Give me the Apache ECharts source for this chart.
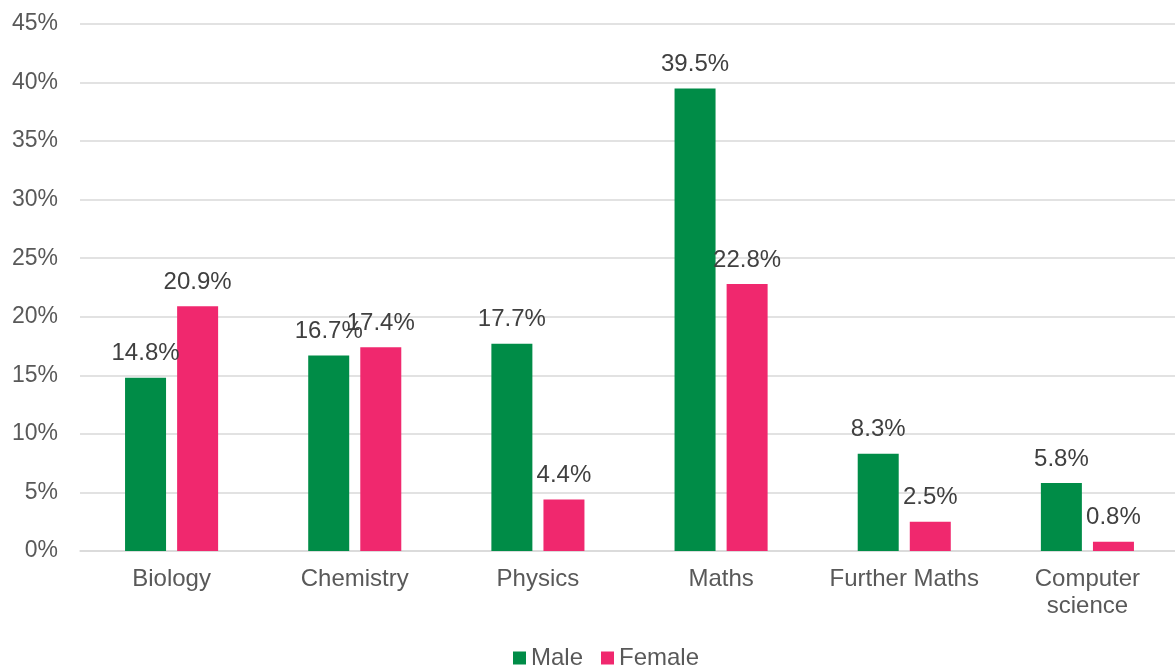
<!DOCTYPE html>
<html>
<head>
<meta charset="utf-8">
<script src="https://cdn.jsdelivr.net/npm/echarts@6/dist/echarts.min.js"></script>
<style>
  html, body { margin: 0; padding: 0; background: #fff; overflow: hidden; }
  /* canvas runs a few pixels past the right edge so the last category is cut like the plot frame */
  #chart { width: 1179px; height: 666px; }
</style>
</head>
<body>
<div id="chart"></div>
<script>
// Share of students taking each subject, by sex (percent)
const subjects = ['Biology', 'Chemistry', 'Physics', 'Maths', 'Further Maths', 'Computer\nscience'];
const maleValues = [14.8, 16.7, 17.7, 39.5, 8.3, 5.8];
const femaleValues = [20.9, 17.4, 4.4, 22.8, 2.5, 0.8];
const seriesNames = ['Male', 'Female'];
const yTicks = { min: 0, max: 45, interval: 5 };

const FONT = '"Liberation Sans", Arial, sans-serif';
const GREEN = '#008c47';
const PINK = '#f0286e';

const labelStyle = {
  show: true,
  position: 'top',
  distance: 12,
  color: '#404040',
  fontFamily: FONT,
  fontSize: 24,
  formatter: p => p.value.toFixed(1) + '%'
};

const chart = echarts.init(document.getElementById('chart'), null, { renderer: 'canvas' });
chart.setOption({
  animation: false,
  backgroundColor: '#ffffff',
  grid: { left: 80, top: 24, width: 1099, height: 527, containLabel: false },
  legend: {
    data: seriesNames,
    left: 508,
    top: 641,
    itemWidth: 13,
    itemHeight: 13,
    itemGap: 18,
    icon: 'rect',
    textStyle: { color: '#595959', fontFamily: FONT, fontSize: 24 }
  },
  xAxis: {
    type: 'category',
    data: subjects,
    axisLine: { show: true, lineStyle: { color: '#d9d9d9', width: 1.5 } },
    axisTick: { show: false },
    axisLabel: {
      color: '#595959',
      fontFamily: FONT,
      fontSize: 24,
      lineHeight: 27,
      margin: 15,
      interval: 0
    }
  },
  yAxis: {
    type: 'value',
    min: yTicks.min,
    max: yTicks.max,
    interval: yTicks.interval,
    axisLine: { show: false },
    axisTick: { show: false },
    splitLine: { lineStyle: { color: '#d9d9d9', width: 1.5 } },
    axisLabel: {
      color: '#595959',
      fontFamily: FONT,
      fontSize: 23,
      margin: 22,
      formatter: v => v + '%'
    }
  },
  series: [
    {
      name: seriesNames[0],
      type: 'bar',
      data: maleValues,
      barWidth: 41,
      barGap: '27%',
      itemStyle: { color: GREEN },
      label: labelStyle
    },
    {
      name: seriesNames[1],
      type: 'bar',
      data: femaleValues,
      barWidth: 41,
      itemStyle: { color: PINK },
      label: labelStyle
    }
  ]
});
</script>
</body>
</html>
